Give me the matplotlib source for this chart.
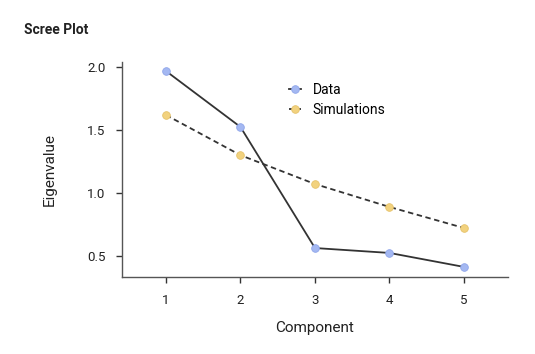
import matplotlib
matplotlib.use("Agg")
import matplotlib.pyplot as plt

plt.rcParams['font.family'] = ['Roboto', 'DejaVu Sans']

components = [1, 2, 3, 4, 5]
data_vals = [1.968, 1.524, 0.563, 0.524, 0.413]
sim_vals = [1.619, 1.300, 1.071, 0.889, 0.722]
yticks = [0.5, 1.0, 1.5, 2.0]
ytick_labels = ["0.5", "1.0", "1.5", "2.0"]

fig = plt.figure(figsize=(5.35, 3.54), dpi=100)
ax = fig.add_axes([0.228, 0.2175, 0.7215, 0.6075])

ax.plot(components, data_vals, color='#333333', lw=1.3, marker='o', ms=5.5,
        mfc='#a4b8f2', mec='#8fa6ea', mew=0.6, label='Data', zorder=3)
ax.plot(components, sim_vals, color='#333333', lw=1.3, ls=(0, (3, 2)), marker='o', ms=5.5,
        mfc='#f2d27e', mec='#e6c26a', mew=0.6, label='Simulations', zorder=3)

ax.set_xlim(0.41, 5.59)
ax.set_ylim(0.333, 2.04)
ax.set_xticks(components)
ax.set_xticklabels([str(c) for c in components])
ax.set_yticks(yticks)
ax.set_yticklabels(ytick_labels)
for s in ['top', 'right']:
    ax.spines[s].set_visible(False)
for s in ['left', 'bottom']:
    ax.spines[s].set_color('#555555')
    ax.spines[s].set_linewidth(1.0)
ax.tick_params(axis='both', direction='out', length=4, width=1, color='#333333',
               labelsize=9.5, labelcolor='#222222', pad=8)

ax.set_xlabel('Component', fontsize=11, labelpad=10, color='#222222')
ax.set_ylabel('Eigenvalue', fontsize=11, labelpad=22, color='#222222')

leg = ax.legend(loc='upper left', bbox_to_anchor=(0.40, 0.96), frameon=False,
                fontsize=10, handlelength=0.9, handletextpad=0.8, labelspacing=0.45)

fig.text(0.045, 0.905, 'Scree Plot', fontsize=10, fontweight='bold', color='#222222')

fig.savefig('out.png', dpi=100)
